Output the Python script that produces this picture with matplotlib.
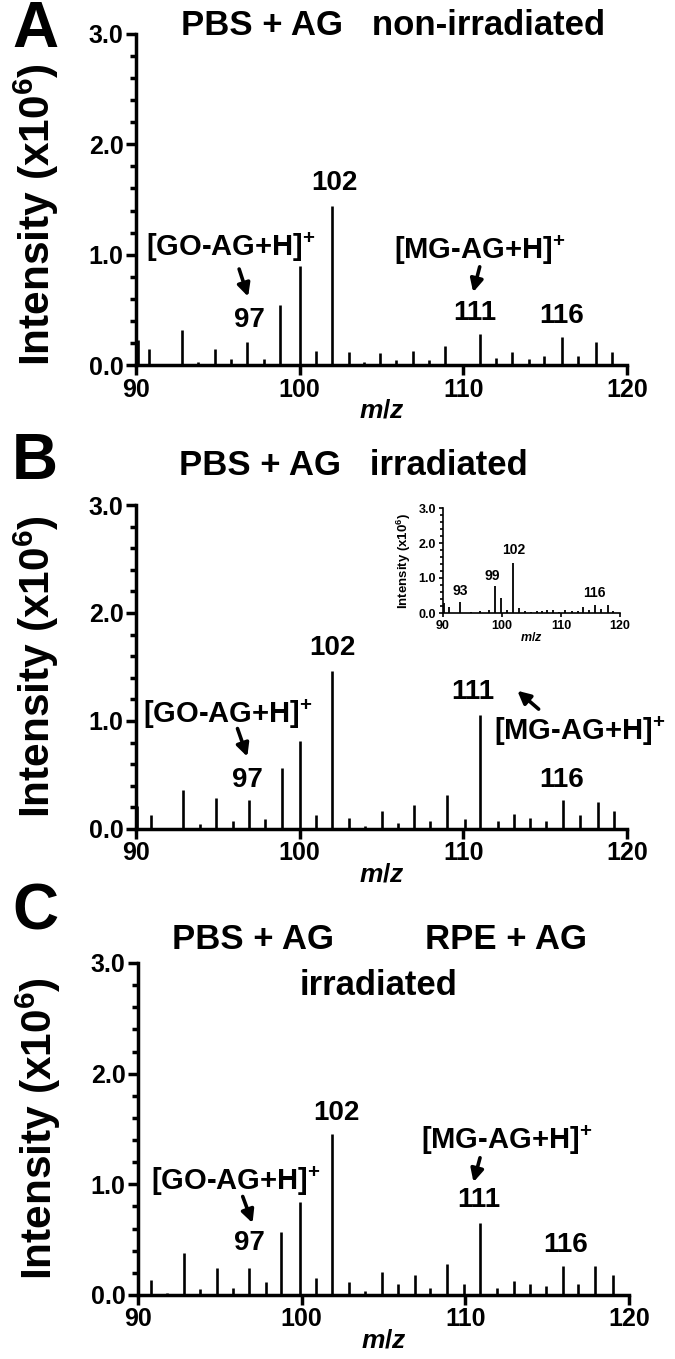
import matplotlib
matplotlib.use("Agg")
import matplotlib.pyplot as plt
from matplotlib.ticker import MultipleLocator, FormatStrFormatter

plt.rcParams["font.family"] = ["Liberation Sans", "DejaVu Sans"]
plt.rcParams["font.weight"] = "bold"
plt.rcParams["mathtext.fontset"] = "custom"
plt.rcParams["mathtext.rm"] = "Liberation Sans:bold"
plt.rcParams["mathtext.it"] = "Liberation Sans:bold:italic"
plt.rcParams["mathtext.bf"] = "Liberation Sans:bold"

# panel A: PBS + AG, non-irradiated
mz_a = [90.1, 90.8, 92.8, 93.8, 94.8, 95.8, 96.8, 97.8, 98.8, 100.0, 101.0, 102.0,
        103.0, 103.9, 104.9, 105.9, 106.9, 107.9, 108.9, 111.0, 112.0, 113.0, 114.0,
        114.9, 116.0, 117.0, 118.1, 119.1]
int_a = [0.225, 0.144, 0.318, 0.024, 0.144, 0.054, 0.207, 0.054, 0.54, 0.90, 0.123, 1.44,
         0.114, 0.024, 0.108, 0.045, 0.123, 0.045, 0.174, 0.285, 0.06, 0.114, 0.054,
         0.084, 0.258, 0.084, 0.21, 0.114]

# panel B: PBS + AG, irradiated
mz_b = [90.05, 90.9, 92.9, 93.9, 94.9, 95.9, 96.9, 97.9, 98.9, 100.05, 101.0, 102.0,
        103.0, 104.0, 105.0, 106.0, 107.0, 107.95, 109.0, 110.1, 111.0, 112.1, 113.1,
        114.1, 115.05, 116.1, 117.1, 118.2, 119.2]
int_b = [0.214, 0.125, 0.362, 0.045, 0.288, 0.071, 0.264, 0.095, 0.564, 0.816, 0.125, 1.46,
         0.104, 0.03, 0.169, 0.059, 0.22, 0.071, 0.318, 0.095, 1.06, 0.071, 0.14,
         0.104, 0.071, 0.264, 0.125, 0.25, 0.169]

# inset of panel B
mz_ins = [90.2, 91.0, 92.9, 94.7, 96.3, 97.8, 98.8, 99.9, 100.8, 101.9, 102.8, 103.9,
          104.9, 105.9, 106.8, 107.6, 108.7, 109.6, 110.7, 111.8, 112.8, 113.8, 114.8,
          115.8, 116.8, 117.9, 118.8]
int_ins = [0.29, 0.17, 0.31, 0.03, 0.05, 0.10, 0.76, 0.43, 0.10, 1.43, 0.14, 0.05,
           0.04, 0.05, 0.06, 0.10, 0.08, 0.04, 0.10, 0.05, 0.06, 0.16, 0.08,
           0.22, 0.11, 0.24, 0.05]

# panel C: RPE + AG, irradiated
mz_c = [90.8, 91.8, 92.8, 93.8, 94.8, 95.8, 96.8, 97.8, 98.75, 99.9, 100.9, 101.85,
        102.9, 103.85, 104.9, 105.9, 106.9, 107.85, 108.9, 109.95, 110.9, 111.95, 112.95,
        113.95, 114.95, 115.95, 116.9, 117.9, 119.0]
int_c = [0.136, 0.015, 0.376, 0.054, 0.247, 0.066, 0.247, 0.114, 0.572, 0.843, 0.15, 1.455,
         0.114, 0.036, 0.21, 0.1, 0.18, 0.066, 0.28, 0.1, 0.648, 0.066, 0.13,
         0.1, 0.084, 0.262, 0.1, 0.262, 0.18]

GO = "[GO-AG+H]$^{+}$"
MG = "[MG-AG+H]$^{+}$"
YLAB = "Intensity (x10$^{6}$)"

fig = plt.figure(figsize=(6.75, 13.59), dpi=100)


def style_axes(ax, tick_size, lw, major_len, minor_len, bar_lw, mz, inten):
    ax.vlines(mz, 0, inten, color="black", lw=bar_lw)
    ax.set_xlim(90, 120)
    ax.set_ylim(0, 3.0)
    for s in ["top", "right"]:
        ax.spines[s].set_visible(False)
    for s in ["left", "bottom"]:
        ax.spines[s].set_linewidth(lw)
    ax.xaxis.set_major_locator(MultipleLocator(10))
    ax.yaxis.set_major_locator(MultipleLocator(1.0))
    ax.yaxis.set_minor_locator(MultipleLocator(0.2))
    ax.yaxis.set_major_formatter(FormatStrFormatter("%.1f"))
    ax.tick_params(axis="both", which="major", direction="out", length=major_len,
                   width=lw, labelsize=tick_size, pad=2)
    ax.tick_params(axis="y", which="minor", direction="out", length=minor_len, width=lw)


def arrow(ax, start, end):
    ax.annotate("", xy=end, xytext=start,
                arrowprops=dict(arrowstyle="-|>", lw=2.6, color="black",
                                mutation_scale=19, shrinkA=0, shrinkB=0))


def main_panel(rect, mz, inten, letter, letter_y, label_y=0.5):
    ax = fig.add_axes(rect)
    style_axes(ax, 18, 2.5, 7, 4, 1.9, mz, inten)
    ax.set_ylabel(YLAB, fontsize=30.5, fontweight="bold")
    ax.yaxis.set_label_coords(-0.152, label_y)
    ax.set_xlabel("$m/z$", fontsize=19, labelpad=-2)
    fig.text(35 / 675, 1 - letter_y / 1359, letter, fontsize=46, fontweight="bold",
             ha="center", va="center")
    return ax


kw = dict(fontsize=20, fontweight="bold", ha="center", va="center")
bkw = dict(fontsize=21, fontweight="bold", ha="center", va="center")
tkw = dict(fontsize=25, fontweight="bold", ha="center", va="center")

# ---- A ----
ax = main_panel([0.2015, 0.7314, 0.7274, 0.2436], mz_a, int_a, "A", 30, 0.455)
ax.text(105.7, 3.08, "PBS + AG   non-irradiated", **tkw)
ax.text(102.1, 1.65, "102", **kw)
ax.text(95.8, 1.07, GO, **bkw)
arrow(ax, (96.3, 0.87), (96.85, 0.62))
ax.text(96.9, 0.41, "97", **kw)
ax.text(111.0, 1.04, MG, **bkw)
arrow(ax, (111.0, 0.89), (110.6, 0.66))
ax.text(110.7, 0.47, "111", **kw)
ax.text(116.0, 0.44, "116", **kw)

# ---- B ----
ax = main_panel([0.2015, 0.3900, 0.7274, 0.2384], mz_b, int_b, "B", 462)
ax.text(103.3, 3.37, "PBS + AG   irradiated", **tkw)
ax.text(102.0, 1.68, "102", **kw)
ax.text(110.6, 1.27, "111", **kw)
arrow(ax, (114.6, 1.11), (113.3, 1.28))
ax.text(117.1, 0.90, MG, **bkw)
ax.text(95.6, 1.06, GO, **bkw)
arrow(ax, (96.2, 0.93), (96.8, 0.67))
ax.text(96.8, 0.45, "97", **kw)
ax.text(116.0, 0.45, "116", **kw)

# inset
ins = fig.add_axes([443 / 675, 1 - 613 / 1359, 177 / 675, 105 / 1359])
style_axes(ins, 9, 1.2, 3, 2, 1.3, mz_ins, int_ins)
ins.set_ylabel(YLAB, fontsize=9.5, fontweight="bold")
ins.yaxis.set_label_coords(-0.17, 0.5)
ins.set_xlabel("$m/z$", fontsize=9, labelpad=-1)
ikw = dict(fontsize=10, fontweight="bold", ha="center", va="center")
ins.text(92.9, 0.62, "93", **ikw)
ins.text(98.4, 1.05, "99", **ikw)
ins.text(101.9, 1.8, "102", **ikw)
ins.text(115.7, 0.56, "116", **ikw)

# ---- C ----
ax = main_panel([0.2044, 0.0471, 0.7274, 0.2443], mz_c, int_c, "C", 913)
ax.text(97.0, 3.21, "PBS + AG", **tkw)
ax.text(112.5, 3.21, "RPE + AG", **tkw)
ax.text(104.7, 2.80, "irradiated", **tkw)
ax.text(102.1, 1.64, "102", **kw)
ax.text(112.5, 1.40, MG, **bkw)
arrow(ax, (110.9, 1.24), (110.5, 1.02))
ax.text(110.8, 0.86, "111", **kw)
ax.text(96.0, 1.03, GO, **bkw)
arrow(ax, (96.4, 0.89), (97.0, 0.65))
ax.text(96.8, 0.47, "97", **kw)
ax.text(116.1, 0.45, "116", **kw)

fig.savefig("out.png", dpi=100)
